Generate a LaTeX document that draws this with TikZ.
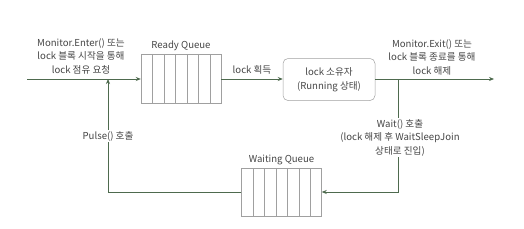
\documentclass[tikz,border=0pt]{standalone}
\usepackage{fontspec}
\setmainfont{Noto Sans CJK KR}
\usetikzlibrary{arrows.meta,calc}
\definecolor{txt}{HTML}{454545}
\definecolor{arrc}{HTML}{4E6A4E}
\definecolor{boxc}{HTML}{A0A0A0}
\tikzset{
  lbl/.style={text=txt,font=\fontsize{9.6}{13.5}\selectfont,align=center,inner sep=1pt},
  arr/.style={draw=arrc,line width=0.7pt,-{Stealth[length=5pt,width=4pt]}},
  ln/.style={draw=arrc,line width=0.7pt},
  queue/.style={draw=boxc,line width=0.45pt,minimum width=80pt,minimum height=49pt,inner sep=0pt},
  owner/.style={draw=boxc,line width=0.5pt,rounded corners=5pt,minimum width=92pt,minimum height=42pt,inner sep=0pt,text=txt,font=\fontsize{9.6}{13.5}\selectfont,align=center}
}
\begin{document}
\begin{tikzpicture}[x=1pt,y=-1pt]
\useasboundingbox (0,0) rectangle (524,228);
% queues
\node[queue] (ready) at (181,78.5) {};
\node[queue,minimum height=48pt] (waiting) at (281.5,192) {};
\foreach \q in {ready,waiting}{
  \foreach \i in {1,...,6}{
    \draw[boxc,line width=0.45pt] ($(\q.north west)!\i/7!(\q.north east)$) -- ($(\q.south west)!\i/7!(\q.south east)$);
  }
}
\node[lbl,anchor=south] (rlabel) at ($(ready.north)+(0,-2)$) {Ready Queue};
\node[lbl,anchor=south] (wlabel) at ($(waiting.north)+(0,-2)$) {Waiting Queue};
% owner
\node[owner] (owner) at (329,79.5) {lock 소유자\\(Running 상태)};
% coordinates
\coordinate (start) at (27,79);
\coordinate (pj) at (108,79);
\coordinate (wj) at (398,79);
\coordinate (exitend) at (494,79);
% connectors
\draw[arr] (start) -- (ready.west |- start);
\draw[arr] (ready.east |- start) -- (owner.west |- start) node[lbl,midway,above=3pt] (get) {lock 획득};
\draw[arr] (owner.east |- start) -- (exitend);
\draw[arr] (wj) |- (waiting.east);
\draw[arr] (waiting.west) -| (pj);
% labels
\node[lbl] (enter) at (81,56) {Monitor.Enter() 또는\\lock 블록 시작을 통해\\lock 점유 요청};
\node[lbl] (exit) at (432,57) {Monitor.Exit() 또는\\lock 블록 종료를 통해\\lock 해제};
\node[lbl,fill=white] (waitl) at (400,137.5) {Wait() 호출\\(lock 해제 후 WaitSleepJoin\\상태로 진입)};
\node[lbl,fill=white] (pulse) at (108,136) {Pulse() 호출};
\end{tikzpicture}
\end{document}
